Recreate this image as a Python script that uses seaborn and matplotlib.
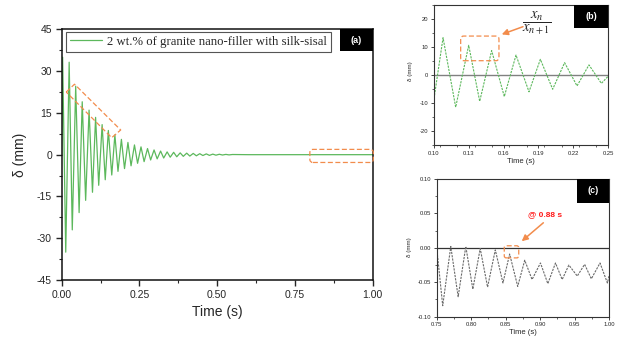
import numpy as np
import pandas as pd
import matplotlib
matplotlib.use('Agg')
import matplotlib.pyplot as plt
import seaborn as sns
from matplotlib.patches import Polygon, FancyBboxPatch, Rectangle, ConnectionPatch
from matplotlib.ticker import MultipleLocator, FixedLocator
from matplotlib.transforms import IdentityTransform

# ---------------- data (extrema of the signal) ----------------
main_label = "2 wt.% of granite nano-filler with silk-sisal"
main_time = [0.000, 0.003, 0.013, 0.024, 0.034, 0.045, 0.056, 0.066, 0.077, 0.088,
             0.099, 0.109, 0.119, 0.130, 0.140, 0.150, 0.161, 0.171, 0.181, 0.192,
             0.202, 0.213, 0.223, 0.234, 0.244, 0.255, 0.265, 0.276, 0.286, 0.297,
             0.307, 0.318, 0.328, 0.339, 0.349, 0.360, 0.370, 0.381, 0.391, 0.402,
             0.412, 0.423, 0.433, 0.444, 0.454, 0.465, 0.475, 0.486, 0.496, 0.507,
             0.517, 0.528, 0.538, 0.549, 0.600, 0.750, 1.000]
main_disp = [0.0, 35.0, -35.0, 33.2, -27.0, 24.6, -20.8, 19.0, -16.4, 16.0,
             -13.5, 13.4, -11.0, 10.8, -9.0, 8.7, -7.3, 7.1, -6.0, 5.5,
             -5.0, 4.4, -4.0, 3.5, -3.1, 2.8, -2.5, 2.2, -1.9, 1.7,
             -1.5, 1.3, -1.2, 1.0, -0.9, 0.85, -0.75, 0.65, -0.6, 0.55,
             -0.5, 0.45, -0.4, 0.35, -0.3, 0.28, -0.25, 0.2, -0.18, 0.15,
             -0.12, 0.1, -0.08, 0.06, 0.0, 0.0, 0.0]

b_time = [0.100, 0.1078, 0.1187, 0.1299, 0.1394, 0.1497, 0.1606, 0.1707, 0.1819,
          0.1917, 0.2023, 0.2126, 0.2233, 0.2336, 0.2443, 0.2500]
b_disp = [-8.5, 13.3, -11.5, 10.6, -9.4, 8.7, -7.7, 7.1, -6.0,
          5.6, -5.1, 4.4, -3.9, 3.6, -3.0, -0.5]

c_time = [0.750, 0.7587, 0.7704, 0.7811, 0.7922, 0.8024, 0.8131, 0.8238, 0.8350,
          0.8461, 0.8558, 0.8675, 0.8777, 0.8883, 0.9005, 0.9112, 0.9223, 0.9320,
          0.9417, 0.9539, 0.9646, 0.9743, 0.9869, 0.9976, 1.000]
c_disp = [0.000, -0.084, 0.002, -0.071, 0.002, -0.060, -0.001, -0.057, -0.003,
          -0.051, -0.009, -0.056, -0.018, -0.046, -0.022, -0.052, -0.022, -0.046,
          -0.025, -0.041, -0.024, -0.045, -0.022, -0.051, -0.041]

main_xticks = [0.00, 0.25, 0.50, 0.75, 1.00]
main_xticklabels = ["0.00", "0.25", "0.50", "0.75", "1.00"]
main_yticks = [-45, -30, -15, 0, 15, 30, 45]
b_xticks = [0.10, 0.13, 0.16, 0.19, 0.22, 0.25]
b_xticklabels = ["0.10", "0.13", "0.16", "0.19", "0.22", "0.25"]
b_yticks = [-20, -10, 0, 10, 20]
c_xticks = [0.75, 0.80, 0.85, 0.90, 0.95, 1.00]
c_xticklabels = ["0.75", "0.80", "0.85", "0.90", "0.95", "1.00"]
c_yticks = [-0.10, -0.05, 0.00, 0.05, 0.10]
c_yticklabels = ["-0.10", "-0.05", "0.00", "0.05", "0.10"]

df_main = pd.DataFrame({"t": main_time, "d": main_disp})
df_b = pd.DataFrame({"t": b_time, "d": b_disp})
df_c = pd.DataFrame({"t": c_time, "d": c_disp})

# ---------------- style ----------------
sns.set_style("ticks")
plt.rcParams['font.family'] = ['Liberation Sans', 'DejaVu Sans']
plt.rcParams['mathtext.fontset'] = 'stix'
plt.rcParams['axes.unicode_minus'] = False

ORANGE = '#f28c4c'
GREEN = '#5cb85c'

fig = plt.figure(figsize=(6.17, 3.41), dpi=100)
fig.patch.set_facecolor('white')
ax = fig.add_axes([0.1000, 0.1789, 0.504, 0.735])
axb = fig.add_axes([0.7034, 0.5748, 0.282, 0.4106])
axc = fig.add_axes([0.7078, 0.0713, 0.2793, 0.4038])

# ---------------- main panel ----------------
sns.lineplot(data=df_main, x="t", y="d", ax=ax, color=GREEN, lw=0.9,
             estimator=None, sort=False, label=main_label)
ax.set_xlim(0, 1)
ax.set_ylim(-45, 45)
ax.xaxis.set_major_locator(FixedLocator(main_xticks))
ax.set_xticklabels(main_xticklabels)
ax.xaxis.set_minor_locator(MultipleLocator(0.125))
ax.yaxis.set_major_locator(FixedLocator(main_yticks))
ax.yaxis.set_minor_locator(MultipleLocator(7.5))
ax.tick_params(which='major', length=4, width=1.0, direction='out', labelsize=7.5, pad=3)
ax.tick_params(which='minor', length=2.5, width=0.8, direction='out')
for s in ax.spines.values():
    s.set_visible(True)
    s.set_linewidth(1.1)
    s.set_color('#111111')
ax.set_xlabel("Time (s)", fontsize=10)
ax.set_ylabel("δ (mm)", fontsize=10)
ax.xaxis.set_label_coords(0.5, -0.10)
ax.yaxis.set_label_coords(-0.11, 0.5)
leg = ax.legend(loc='upper left', bbox_to_anchor=(0.0138, 0.99), borderaxespad=0,
                prop={'family': 'Liberation Serif', 'size': 9.2}, frameon=True,
                fancybox=False, edgecolor='#555555', framealpha=1,
                borderpad=0.3, handlelength=2.5, handletextpad=0.4)
leg.get_frame().set_linewidth(0.8)
ax.add_patch(Rectangle((0.895, 0.913), 0.105, 0.087, transform=ax.transAxes,
                       facecolor='black', edgecolor='none', zorder=5))
ax.text(0.9475, 0.9565, "(a)", transform=ax.transAxes, color='white',
        fontsize=6.5, fontweight='bold', ha='center', va='center', zorder=6)

# ---------------- panel b ----------------
axb.axhline(0, color='#808080', lw=1.0, zorder=1)
sns.lineplot(data=df_b, x="t", y="d", ax=axb, color=GREEN, lw=0.8,
             estimator=None, sort=False, linestyle=(0, (2, 1)))
axb.set_xlim(0.10, 0.25)
axb.set_ylim(-25, 25)
axb.xaxis.set_major_locator(FixedLocator(b_xticks))
axb.set_xticklabels(b_xticklabels)
axb.xaxis.set_minor_locator(MultipleLocator(0.015))
axb.yaxis.set_major_locator(FixedLocator(b_yticks))
axb.yaxis.set_minor_locator(MultipleLocator(5))
axb.set_xlabel("Time (s)", fontsize=5.5)
axb.set_ylabel("δ (mm)", fontsize=4.5)
axb.xaxis.set_label_coords(0.5, -0.09)
axb.yaxis.set_label_coords(-0.12, 0.53)

# ---------------- panel c ----------------
axc.axhline(0, color='#333333', lw=0.9, zorder=1)
sns.lineplot(data=df_c, x="t", y="d", ax=axc, color='#6a6a6a', lw=0.8,
             estimator=None, sort=False, linestyle=(0, (2, 1)))
axc.set_xlim(0.75, 1.00)
axc.set_ylim(-0.10, 0.10)
axc.xaxis.set_major_locator(FixedLocator(c_xticks))
axc.set_xticklabels(c_xticklabels)
axc.xaxis.set_minor_locator(MultipleLocator(0.025))
axc.yaxis.set_major_locator(FixedLocator(c_yticks))
axc.set_yticklabels(c_yticklabels)
axc.yaxis.set_minor_locator(MultipleLocator(0.025))
axc.set_xlabel("Time (s)", fontsize=5.5)
axc.set_ylabel("δ (mm)", fontsize=4.5)
axc.xaxis.set_label_coords(0.5, -0.09)
axc.yaxis.set_label_coords(-0.143, 0.506)

for a, tag, x0, y0 in [(axb, "(b)", 0.805, 0.834), (axc, "(c)", 0.814, 0.826)]:
    a.tick_params(which='major', length=2, width=0.6, direction='out', labelsize=4.2, pad=2)
    a.tick_params(which='minor', length=1.2, width=0.5, direction='out')
    for s in a.spines.values():
        s.set_visible(True)
        s.set_linewidth(0.8)
        s.set_color('#333333')
    a.add_patch(Rectangle((x0, y0), 1 - x0, 1 - y0, transform=a.transAxes,
                          facecolor='black', edgecolor='none', zorder=5))
    a.text((1 + x0) / 2, (1 + y0) / 2, tag, transform=a.transAxes, color='white',
           fontsize=6.5, fontweight='bold', ha='center', va='center', zorder=6)

# ---------------- annotations ----------------
def rrect(a, x0, y0, x1, y1, r=3):
    p0 = a.transData.transform((x0, y0))
    p1 = a.transData.transform((x1, y1))
    xmin, ymin = min(p0[0], p1[0]), min(p0[1], p1[1])
    w, h = abs(p1[0] - p0[0]), abs(p1[1] - p0[1])
    patch = FancyBboxPatch((xmin, ymin), w, h,
                           boxstyle=f'round,pad=0,rounding_size={r}',
                           transform=IdentityTransform(), fill=False,
                           edgecolor=ORANGE, lw=0.9, linestyle=(0, (4, 2)), zorder=10)
    fig.add_artist(patch)

# rotated box on the main panel
corners = [(0.0145, 22.5), (0.0412, 25.3), (0.1897, 8.87), (0.1608, 6.10)]
ax.add_patch(Polygon(corners, closed=True, fill=False, edgecolor=ORANGE, lw=0.9,
                     linestyle=(0, (4, 2)), joinstyle='round', clip_on=False, zorder=10))
rrect(ax, 0.798, -2.8, 1.002, 1.9, r=3)
rrect(axb, 0.123, 5.1, 0.156, 13.9, r=3)
rrect(axc, 0.848, -0.0146, 0.869, 0.003, r=2)

con1 = ConnectionPatch(xyA=(0.1897, 8.87), coordsA='data', axesA=ax,
                       xyB=(0.0957, 0.0), coordsB='data', axesB=axb,
                       arrowstyle='-|>', mutation_scale=8, color=ORANGE, lw=0.9, zorder=11)
fig.add_artist(con1)
con2 = ConnectionPatch(xyA=(1.0, -2.8), coordsA='data', axesA=ax,
                       xyB=(0.7485, 0.0), coordsB='data', axesB=axc,
                       arrowstyle='-|>', mutation_scale=8, color=ORANGE, lw=0.9, zorder=11)
fig.add_artist(con2)

axb.annotate('', xy=(0.1584, 14.5), xytext=(0.1767, 17.25),
             arrowprops=dict(arrowstyle='-|>', color=ORANGE, lw=1.1,
                             mutation_scale=9, shrinkA=0, shrinkB=0))
axb.text(0.1885, 18.6, r'$\dfrac{x_n}{x_{n+1}}$', fontsize=10.5, ha='center', va='center')

axc.annotate('', xy=(0.8733, 0.0096), xytext=(0.9047, 0.0364),
             arrowprops=dict(arrowstyle='-|>', color=ORANGE, lw=1.1,
                             mutation_scale=9, shrinkA=0, shrinkB=0))
axc.text(0.9071, 0.0478, "@ 0.88 s", color='#ff1a1a', fontsize=6,
         fontweight='bold', ha='center', va='center')

fig.savefig("out.png", dpi=100)
